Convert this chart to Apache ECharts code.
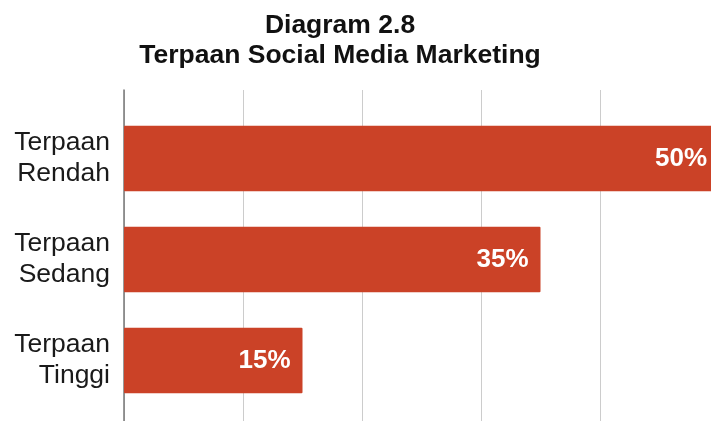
<!DOCTYPE html>
<html>
<head>
<meta charset="utf-8">
<script src="https://cdn.jsdelivr.net/npm/echarts@6/dist/echarts.min.js"></script>
<style>
  html, body { margin: 0; padding: 0; background: #ffffff; }
  #chart { width: 711px; height: 421px; }
</style>
</head>
<body>
<div id="chart"></div>
<script>
// Levels of exposure and their share of respondents (%)
const categories = ['Terpaan\nRendah', 'Terpaan\nSedang', 'Terpaan\nTinggi'];
const shares = [50, 35, 15];
const axisMax = 50;
const axisStep = 10;

const FONT = 'Liberation Sans';
const chart = echarts.init(document.getElementById('chart'));

chart.setOption({
  backgroundColor: '#ffffff',
  animation: false,
  title: {
    text: 'Diagram 2.8\nTerpaan Social Media Marketing',
    left: 335,
    textAlign: 'center',
    top: 6,
    textStyle: {
      fontFamily: FONT,
      fontSize: 26.5,
      fontWeight: 'bold',
      color: '#111111',
      lineHeight: 30
    }
  },
  grid: [
    // background grid: vertical gridlines and the baseline
    { left: 124, width: 595, top: 90, bottom: 0, outerBoundsMode: 'none' },
    // bar area
    { left: 124, width: 595, top: 108, height: 303, outerBoundsMode: 'none' }
  ],
  xAxis: [
    {
      gridIndex: 0, type: 'value', min: 0, max: axisMax, interval: axisStep,
      axisLine: { show: false }, axisTick: { show: false }, axisLabel: { show: false },
      splitLine: { show: true, lineStyle: { color: '#cccccc', width: 1 } }
    },
    {
      gridIndex: 1, type: 'value', min: 0, max: axisMax, interval: axisStep,
      axisLine: { show: false }, axisTick: { show: false }, axisLabel: { show: false },
      splitLine: { show: false }
    }
  ],
  yAxis: [
    {
      gridIndex: 0, type: 'category', data: [''],
      axisLine: { show: true, lineStyle: { color: '#777777', width: 1.5 } },
      axisTick: { show: false }, axisLabel: { show: false }, splitLine: { show: false }
    },
    {
      gridIndex: 1, type: 'category', data: categories, inverse: true,
      axisLine: { show: false }, axisTick: { show: false },
      axisLabel: {
        margin: 14,
        fontFamily: FONT,
        fontSize: 26.5,
        lineHeight: 31,
        color: '#1a1a1a',
        align: 'right'
      },
      splitLine: { show: false }
    }
  ],
  series: [
    {
      type: 'bar',
      xAxisIndex: 1,
      yAxisIndex: 1,
      data: shares,
      barCategoryGap: '35%',
      itemStyle: { color: '#cb4227', borderRadius: 1 },
      label: {
        show: true,
        position: 'insideRight',
        distance: 12,
        formatter: p => p.value + '%',
        fontFamily: FONT,
        fontSize: 26,
        fontWeight: 'bold',
        color: '#ffffff'
      },
      z: 3
    }
  ]
});
</script>
</body>
</html>
